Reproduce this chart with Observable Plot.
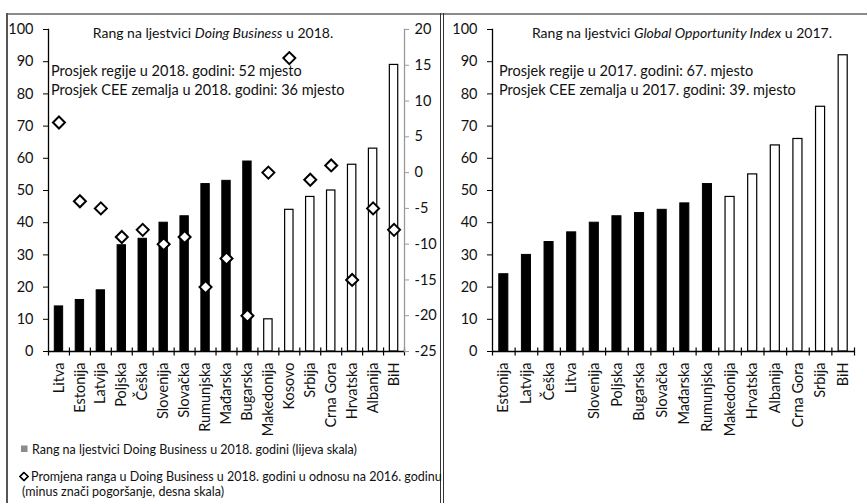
<!DOCTYPE html>
<html>
<head>
<meta charset="utf-8">
<script src="https://cdn.jsdelivr.net/npm/d3@7"></script>
<script src="https://cdn.jsdelivr.net/npm/@observablehq/plot@0.6"></script>
<style>
  body { margin: 0; background: #fff; font-family: Lato, "Noto Sans", sans-serif; }
  #wrap { position: relative; width: 867px; height: 503px; overflow: hidden; background: #fff; }
  .abs { position: absolute; white-space: nowrap; color: #111; }
  .line { position: absolute; }
  .ttl { font-size: 14px; transform: translate(-50%, -50%); }
  .note { font-size: 14.5px; transform: translateY(-50%); }
  .leg { font-size: 12.5px; transform: translateY(-50%); display: flex; align-items: center; }
</style>
</head>
<body>
<div id="wrap">
  <div class="line" style="left:7px;top:13px;width:860px;height:1.5px;background:#8a8a8a"></div>
  <div class="line" style="left:6px;top:13px;width:2px;height:490px;background:#555"></div>
  <div class="line" style="left:440px;top:13px;width:1.3px;height:490px;background:#333"></div>
  <div class="line" style="left:443px;top:13px;width:1.3px;height:490px;background:#333"></div>
</div>
<script>
// Doing Business 2018: rank (left scale) and change versus 2016 (right scale)
const dbCountries = ["Litva", "Estonija", "Latvija", "Poljska", "Češka", "Slovenija", "Slovačka", "Rumunjska", "Mađarska", "Bugarska", "Makedonija", "Kosovo", "Srbija", "Crna Gora", "Hrvatska", "Albanija", "BiH"];
const dbRank = [14, 16, 19, 33, 35, 40, 42, 52, 53, 59, 10, 44, 48, 50, 58, 63, 89];
const dbChange = [7, -4, -5, -9, -8, -10, -9, -16, -12, -20, 0, 16, -1, 1, -15, -5, -8];

// Global Opportunity Index 2017: rank
const goiCountries = ["Estonija", "Latvija", "Češka", "Litva", "Slovenija", "Poljska", "Bugarska", "Slovačka", "Mađarska", "Rumunjska", "Makedonija", "Hrvatska", "Albanija", "Crna Gora", "Srbija", "BiH"];
const goiRank = [24, 30, 34, 37, 40, 42, 43, 44, 46, 52, 48, 55, 64, 66, 76, 92];

// CEE members are drawn as filled bars, the rest of the region as outlined bars
const ceeCountries = ["Litva", "Estonija", "Latvija", "Poljska", "Češka", "Slovenija", "Slovačka", "Rumunjska", "Mađarska", "Bugarska"];

const leftTicks = d3.range(0, 101, 10);
const rightTicks = d3.range(-25, 21, 5);

const dbData = dbCountries.map((c, i) => ({country: c, rank: dbRank[i], change: dbChange[i]}));
const goiData = goiCountries.map((c, i) => ({country: c, rank: goiRank[i]}));
const isCee = d => ceeCountries.includes(d.country);

// right axis (-25..20) placed onto the left axis range (0..100)
const [rMin, rMax] = [rightTicks[0], rightTicks[rightTicks.length - 1]];
const toLeft = v => (v - rMin) * 100 / (rMax - rMin);
const fromLeft = v => Math.round(v * (rMax - rMin) / 100 + rMin);

const style = {fontFamily: "Lato, 'Noto Sans', sans-serif", fontSize: "14.5px", color: "#111", background: "transparent", overflow: "visible", position: "absolute", top: "0px"};

function bars(data, countries, width, marginLeft, marginRight, extra) {
  const step = (width - marginLeft - marginRight) / countries.length;
  return Plot.plot({
    width, height: 440,
    marginLeft, marginRight, marginTop: 29, marginBottom: 89,
    style,
    x: {domain: countries, paddingInner: 0.6, paddingOuter: 0.3, round: false, axis: null},
    y: {domain: [0, 100], axis: null},
    marks: [
      Plot.barY(data.filter(isCee), {x: "country", y: "rank", fill: "black", stroke: "black", strokeWidth: 1}),
      Plot.barY(data.filter(d => !isCee(d)), {x: "country", y: "rank", fill: "white", stroke: "black", strokeWidth: 1.2}),
      Plot.ruleY([0], {stroke: "black", strokeWidth: 1.3}),
      Plot.frame({anchor: "left", stroke: "black", strokeWidth: 1.3}),
      Plot.ruleX(countries, {x: d => d, dx: step / 2, y1: -1.4, y2: 1.1, stroke: "black", strokeWidth: 1.2}),
      Plot.ruleX([countries[0]], {x: d => d, dx: -step / 2, y1: -1.4, y2: 0, stroke: "black", strokeWidth: 1.2}),
      Plot.axisY(leftTicks, {anchor: "left", tickSize: 5, tickPadding: 10, stroke: "black", fill: "#111", label: null}),
      Plot.axisX({anchor: "bottom", tickSize: 0, tickPadding: 11, tickRotate: -90, fill: "#111", label: null}),
      ...extra
    ]
  });
}

const leftChart = bars(dbData, dbCountries, 440, 48, 36, [
  Plot.frame({anchor: "right", stroke: "#9a9a9a", strokeWidth: 1.3}),
  Plot.axisY(rightTicks.map(toLeft), {anchor: "right", tickSize: 4, tickPadding: 6, stroke: "#9a9a9a", fill: "#111", tickFormat: fromLeft, label: null}),
  Plot.dot(dbData, {x: "country", y: d => toLeft(d.change), symbol: "diamond2", r: 5.4, fill: "white", stroke: "black", strokeWidth: 2})
]);
leftChart.style.left = "0px";

const rightChart = bars(goiData, goiCountries, 427, 52, 13, []);
rightChart.style.left = "440px";

const wrap = document.getElementById("wrap");
wrap.append(leftChart, rightChart);

function addText(cls, html, x, y) {
  const el = document.createElement("div");
  el.className = "abs " + cls;
  el.style.left = x + "px";
  el.style.top = y + "px";
  el.innerHTML = html;
  wrap.append(el);
  return el;
}

addText("ttl", "Rang na ljestvici <i>Doing Business</i> u 2018.", 213, 32);
addText("note", "Prosjek regije u 2018. godini: 52 mjesto", 51, 70);
addText("note", "Prosjek CEE zemalja u 2018. godini: 36 mjesto", 51, 89);

addText("ttl", "Rang na ljestvici <i>Global Opportunity Index</i> u 2017.", 682, 32);
addText("note", "Prosjek regije u 2017. godini: 67. mjesto", 499, 70);
addText("note", "Prosjek CEE zemalja u 2017. godini: 39. mjesto", 499, 89);

addText("leg", '<svg width="9" height="9" style="margin-right:3px"><rect x="1" y="1" width="6.5" height="6.5" fill="#8c8c8c"/></svg>Rang na ljestvici Doing Business u 2018. godini (lijeva skala)', 20, 449);
addText("leg", '<svg width="10" height="10" style="margin-right:2px"><path d="M5 1 L9 5 L5 9 L1 5 Z" fill="white" stroke="black" stroke-width="1.6"/></svg>Promjena ranga u Doing Business u 2018. godini u odnosu na 2016. godinu', 19, 476);
addText("leg", "(minus znači pogoršanje, desna skala)", 22, 491);
</script>
</body>
</html>
